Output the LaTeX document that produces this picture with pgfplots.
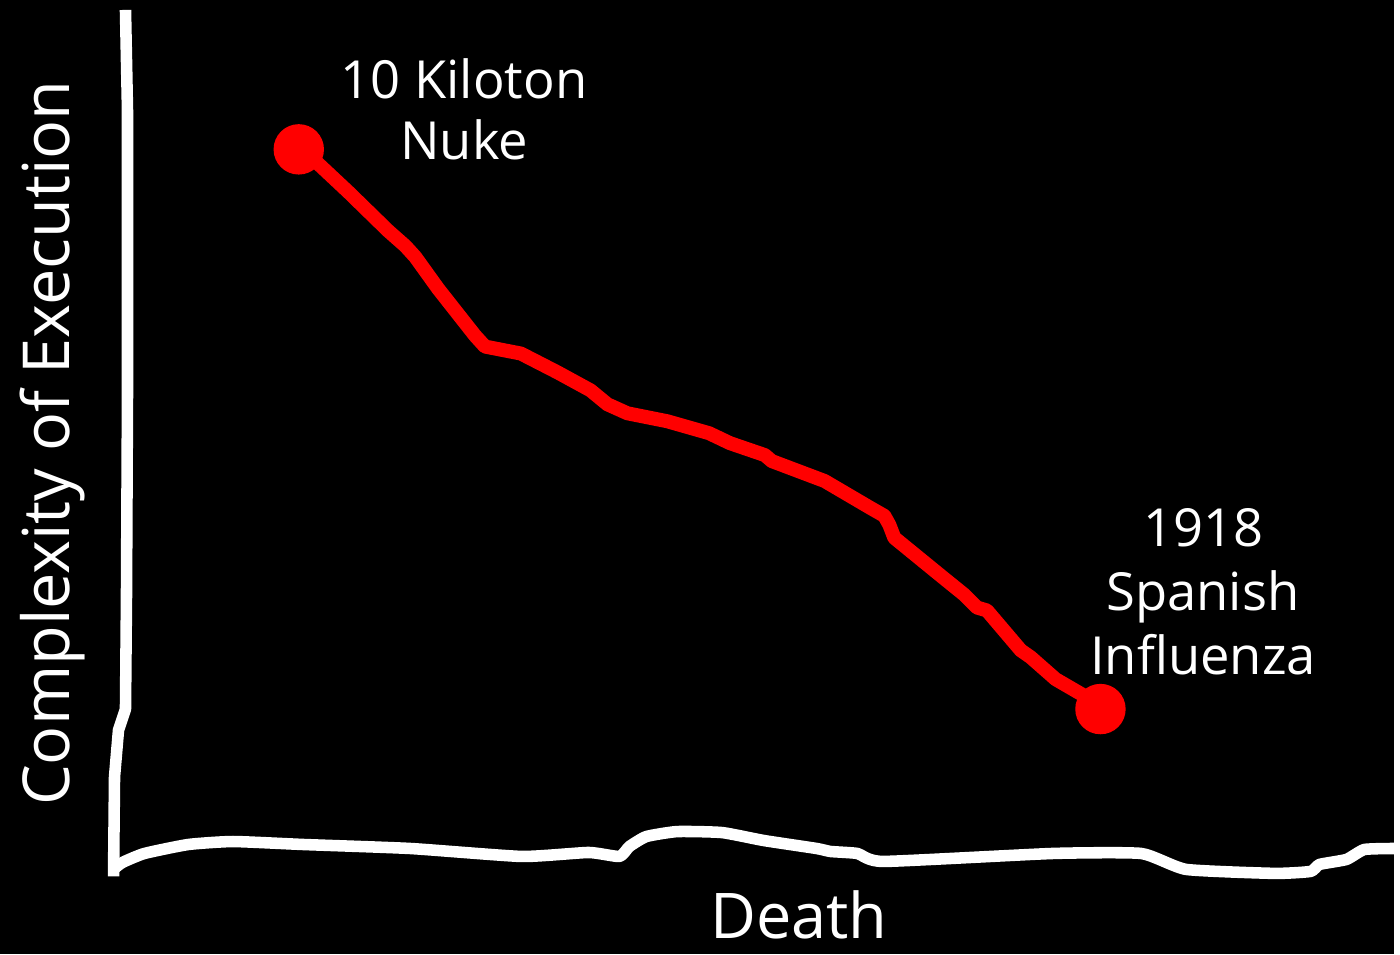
\documentclass[border=0pt]{standalone}
\usepackage{pgfplots}
\pgfplotsset{compat=1.18}
\usepackage{fontspec}
\setmainfont{Open Sans}
\definecolor{pured}{RGB}{255,0,0}
\begin{document}
\begin{tikzpicture}
\fill[black] (0,0) rectangle (14cm,9.58cm);
\begin{axis}[
  at={(0,0)}, anchor=south west,
  width=14cm, height=9.58cm, scale only axis,
  xmin=0, xmax=1400, ymin=0, ymax=958,
  hide axis, clip=false,
]
% y axis (wobbly)
\addplot[white, line width=3.3pt, line join=round, line cap=butt] coordinates {
(126,948) (127,898) (128,848) (128,558) (127,358) (126,246) (119,225) (115,178) (114,78)
};
% x axis (wobbly)
\addplot[white, line width=3.3pt, line join=round, line cap=butt, smooth, tension=0.3] coordinates {
(115,86) (123,92) (145,101) (189,110) (234,113) (305,110) (412,106) (524,98) (591,102) (622,98) (632,108) (649,118) (680,123) (725,122) (767,114) (820,106) (834,103) (861,101) (887,93) (1057,101) (1146,101) (1191,85) (1280,81) (1316,83) (1325,90) (1352,95) (1370,105) (1400,106)
};
% red line
\addplot[pured, line width=4pt, line join=round, line cap=round] coordinates {
(300,808) (318,795) (350,765) (390,726) (407,711) (417,700) (440,668) (477,621) (487,610) (523,603) (560,584) (593,566) (610,552) (630,543) (670,535) (712,523) (733,513) (768,501) (775,495) (828,475) (874,448) (888,440) (893,431) (898,418) (947,378) (968,361) (981,348) (991,345) (1025,305) (1035,298) (1060,276) (1091,258) (1105,246)
};
\addplot[only marks, mark=*, mark size=7pt, pured, mark options={fill=pured, draw=pured}] coordinates {
(300,808) (1105,246)
};
\node[white, anchor=north, inner sep=0pt, align=center, font=\fontsize{15}{17.5}\selectfont] at (axis cs:466,900) {10 Kiloton\\Nuke};
\node[white, anchor=north, inner sep=0pt, align=center, font=\fontsize{15}{18.2}\selectfont] at (axis cs:1208,448) {1918\\Spanish\\Influenza};
\node[white, anchor=base, inner sep=0pt, font=\fontsize{18}{22}\selectfont] at (axis cs:802,16) {Death};
\node[white, anchor=base, inner sep=0pt, rotate=90, font=\fontsize{18.5}{22}\selectfont] at (axis cs:70,513) {Complexity of Execution};
\end{axis}
\end{tikzpicture}
\end{document}
